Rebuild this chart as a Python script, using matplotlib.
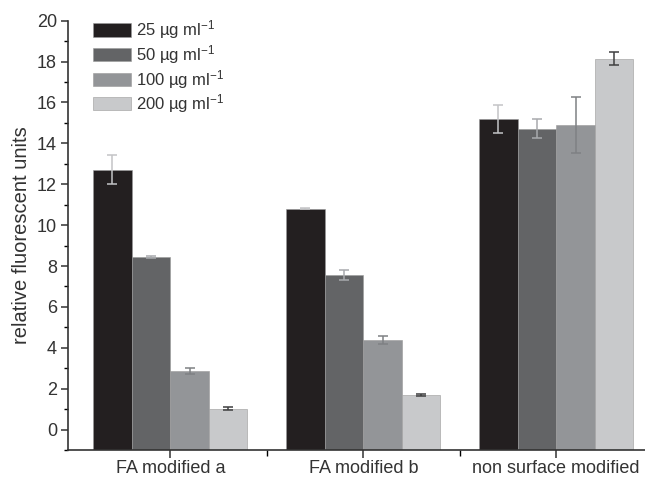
import numpy as np
import matplotlib.pyplot as plt
from matplotlib.ticker import MultipleLocator, FixedLocator

plt.rcParams['font.family'] = ['Liberation Sans', 'DejaVu Sans']
plt.rcParams['mathtext.default'] = 'regular'

groups = ["FA modified a", "FA modified b", "non surface modified"]
conc = ["25 µg ml$^{-1}$", "50 µg ml$^{-1}$", "100 µg ml$^{-1}$", "200 µg ml$^{-1}$"]
val_25 = [12.72, 10.81, 15.20]
val_50 = [8.44, 7.58, 14.72]
val_100 = [2.88, 4.37, 14.91]
val_200 = [1.03, 1.70, 18.15]
err_25 = [0.70, 0.04, 0.70]
err_50 = [0.03, 0.24, 0.46]
err_100 = [0.15, 0.20, 1.38]
err_200 = [0.05, 0.05, 0.33]

values = [val_25, val_50, val_100, val_200]
errors = [err_25, err_50, err_100, err_200]
bar_colors = ['#231f20', '#636466', '#939598', '#c8c9cb']
err_colors = ['#c3c4c6', '#a8aaad', '#7f8184', '#3f3f40']

fig = plt.figure(figsize=(6.45, 4.79), dpi=100)
ax = fig.add_axes([68/645, 29/479, 1 - 68/645, (450 - 20.7)/479])

x = np.arange(1, len(groups) + 1)
width = 0.2
base = -1
for i, (v, e) in enumerate(zip(values, errors)):
    pos = x + (i - 1.5) * width
    v = np.array(v)
    ax.bar(pos, v - base, width, bottom=base, color=bar_colors[i],
           edgecolor='#9a9a9a', linewidth=0.4, label=conc[i])
    ax.errorbar(pos, v, yerr=e, fmt='none', ecolor=err_colors[i],
                elinewidth=1.1, capsize=3.3, capthick=1.1)

ax.set_xlim(0.47, 3.46)
ax.set_ylim(-1, 20)
ax.set_xticks(x)
ax.set_xticklabels(groups)
ax.xaxis.set_minor_locator(FixedLocator([1.5, 2.5]))
ax.yaxis.set_major_locator(MultipleLocator(2))
ax.yaxis.set_minor_locator(MultipleLocator(1))
ax.set_yticks(np.arange(0, 21, 2))
ax.tick_params(axis='y', labelsize=13, length=5, width=1.1, colors='#333333', pad=3)
ax.tick_params(axis='y', which='minor', length=3, width=1.0)
ax.tick_params(axis='x', length=6, width=1.1, colors='#333333', labelsize=13, pad=1)
ax.tick_params(axis='x', which='minor', length=4, width=1.0)
for s in ['top', 'right']:
    ax.spines[s].set_visible(False)
for s in ['left', 'bottom']:
    ax.spines[s].set_linewidth(1.2)
    ax.spines[s].set_color('#333333')

ax.set_ylabel("relative fluorescent units", fontsize=14.5, color='#333333', labelpad=4)

leg = ax.legend(loc='upper left', bbox_to_anchor=(0.043, 1.005), frameon=False,
                fontsize=12, handlelength=2.3, handleheight=0.85,
                handletextpad=0.3, labelspacing=0.1, borderpad=0, borderaxespad=0)
for t in leg.get_texts():
    t.set_color('#333333')

fig.savefig('out.png', dpi=100)
